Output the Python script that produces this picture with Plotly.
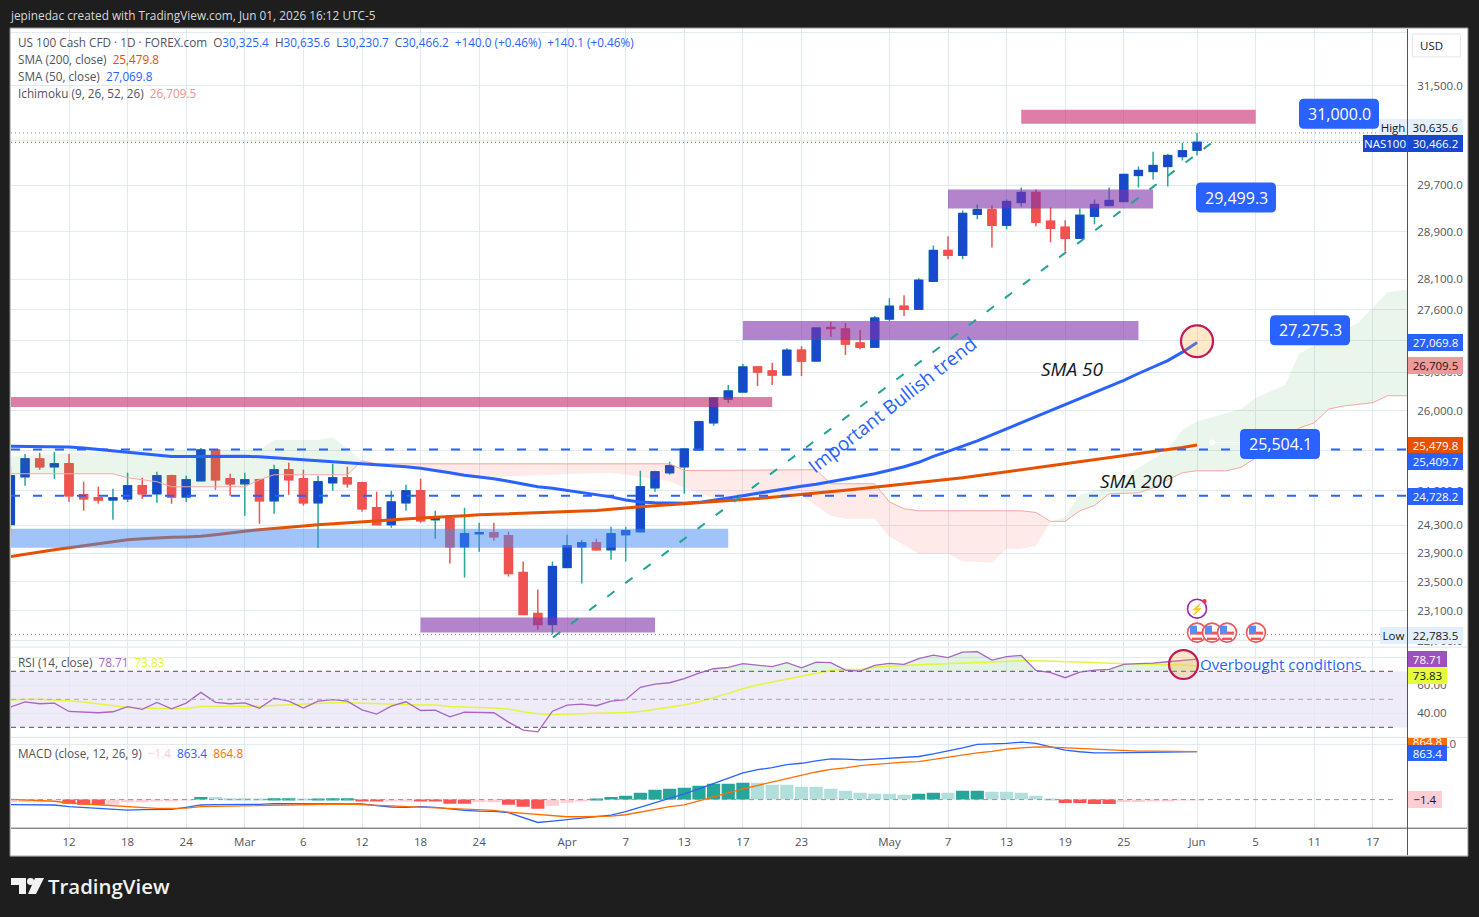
import math
import plotly.graph_objects as go

W, H = 1479, 917
FONT = "Open Sans"

bars = list(range(82))

# candles
opens = [24310, 25005, 25270, 25153, 25197, 24740, 24696, 24666, 24681, 24873,
         24755, 25020, 24710, 24946, 25404, 24976, 24902, 24961, 24652, 25109,
         24976, 24623, 24917, 24990, 24917, 24551, 24308, 24623, 24799, 24380,
         24394, 23993, 24179, 24193, 24150, 23630, 23066, 22917, 23700, 23993,
         24050, 23950, 24165, 24208, 24843, 25065, 25153, 25404, 25814, 26180,
         26289, 26680, 26618, 26555, 26946, 26774, 27310, 27285, 27059, 26994,
         27446, 27655, 27607, 28067, 28582, 28499, 29197, 29282, 29009, 29402,
         29577, 29077, 28975, 28787, 29163, 29351, 29419, 29876, 29946, 30035,
         30210, 30325.4]
highs = [25150, 25345, 25364, 25374, 25345, 24932, 24858, 24828, 25065, 24990,
         25079, 25035, 25020, 25434, 25410, 25050, 25065, 24976, 25182, 25212,
         25109, 25020, 25197, 25153, 24932, 24784, 24799, 24887, 24976, 24508,
         24437, 24551, 24337, 24337, 24208, 23783, 23394, 23783, 24165, 24093,
         24107, 24279, 24279, 25094, 25094, 25227, 25426, 25845, 26211, 26399,
         26727, 26685, 26743, 26978, 27010, 27317, 27397, 27381, 27269, 27494,
         27785, 27835, 28117, 28667, 28821, 29265, 29368, 29351, 29454, 29665,
         29630, 29317, 29095, 29300, 29454, 29665, 29911, 30035, 30298, 30263,
         30457, 30635.6]
lows = [24150, 24873, 25109, 24976, 24637, 24508, 24609, 24380, 24637, 24681,
        24623, 24609, 24637, 24940, 24814, 24725, 24437, 24322, 24466, 24740,
        24580, 23979, 24799, 24843, 24494, 24300, 24265, 24508, 24337, 24107,
        23755, 23561, 23922, 24079, 23575, 23050, 22850, 22783.5, 23695, 23477,
        23936, 23811, 23783, 24193, 24784, 25035, 24755, 25400, 25769, 26118,
        26285, 26383, 26399, 26550, 26539, 26770, 27156, 26868, 26962, 26990,
        27413, 27494, 27605, 28060, 28433, 28433, 29112, 28633, 28941, 29334,
        28992, 28719, 28565, 28780, 29026, 29345, 29415, 29665, 29806, 29683,
        30140, 30230.7]
closes = [25020, 25271, 25153, 25197, 24725, 24681, 24666, 24696, 24873, 24755,
          25020, 24710, 24961, 25404, 24961, 24902, 24961, 24652, 25109, 24961,
          24623, 24932, 24990, 24902, 24537, 24308, 24637, 24799, 24365, 24394,
          23993, 24179, 24193, 24136, 23616, 23052, 22917, 23713, 24007, 24050,
          23950, 24179, 24222, 24858, 25079, 25168, 25419, 25830, 26195, 26305,
          26680, 26602, 26555, 26946, 26774, 27300, 27295, 27043, 26994, 27462,
          27655, 27607, 28084, 28582, 28499, 29214, 29282, 29009, 29419, 29577,
          29060, 28958, 28787, 29180, 29368, 29436, 29894, 29964, 30052, 30228,
          30316, 30466.2]

sma50 = [25460, 25460, 25457, 25454, 25450, 25434, 25412, 25389, 25367, 25345,
         25323, 25308, 25308, 25311, 25315, 25315, 25312, 25301, 25286, 25271,
         25256, 25242, 25227, 25212, 25205, 25190, 25175, 25153, 25131, 25101,
         25065, 25028, 25005, 24976, 24939, 24895, 24858, 24836, 24806, 24777,
         24747, 24710, 24666, 24637, 24623, 24616, 24616, 24630, 24659, 24696,
         24725, 24762, 24799, 24836, 24865, 24895, 24932, 24969, 25005, 25050,
         25101, 25153, 25220, 25308, 25382, 25457, 25541, 25632, 25723, 25814,
         25906, 25997, 26096, 26187, 26273, 26367, 26469, 26578, 26680, 26782,
         26915, 27069.8]
sma200 = [23853, 23887, 23922, 23950, 23979, 24007, 24040, 24072, 24093, 24107,
          24122, 24127, 24133, 24142, 24165, 24193, 24215, 24236, 24251, 24272,
          24289, 24308, 24322, 24337, 24351, 24372, 24385, 24394, 24405, 24415,
          24423, 24437, 24451, 24458, 24466, 24473, 24480, 24487, 24494, 24508,
          24511, 24530, 24551, 24566, 24580, 24594, 24609, 24623, 24637, 24652,
          24666, 24685, 24706, 24725, 24740, 24762, 24784, 24806, 24828, 24850,
          24873, 24895, 24917, 24939, 24961, 24991, 25020, 25050, 25079, 25109,
          25138, 25168, 25197, 25227, 25256, 25283, 25315, 25345, 25374, 25404,
          25442, 25479.8]

# ichimoku cloud edges, kinks only (the cloud runs past the last bar)
span_b_x = [0, 7, 8, 10, 11, 16, 17, 18, 23, 24, 25, 45, 46, 55, 56, 59, 60, 61, 62, 69,
            70, 71, 72, 73, 74, 75, 77, 78, 79, 80, 81, 83, 84, 85, 88, 89, 90, 91, 93, 94, 96]
span_b = [25050, 25050, 24991, 24932, 24858, 24858, 24961, 25035, 25035, 25242,
          25197, 25197, 25098, 25109, 24902, 24902, 24637, 24537, 24508, 24508,
          24484, 24355, 24355, 24508, 24584, 24755, 24769, 24843, 24961, 25065,
          25094, 25094, 25143, 25286, 25738, 25814, 26027, 26073, 26123, 26231, 26231]
span_a_x = [0, 4, 8, 17, 18, 21, 22, 24, 26, 28, 31, 37, 41, 43, 45, 46, 48, 50,
            54, 55, 56, 57, 59, 60, 62, 64, 65, 67, 68, 69, 70, 71, 72, 73, 75, 77, 79, 80,
            81, 84, 85, 87, 88, 92, 94, 96]
span_a = [25305, 25360, 25389, 25404, 25556, 25556, 25597, 25242,
          25168, 25109, 24991, 25035, 25065, 25010, 24936, 24843, 24696, 24666,
          24725, 24580, 24437, 24394, 24394, 24136, 23894, 23894, 23787, 23769,
          23964, 23964, 24007, 24351, 24423, 24740, 24858, 25138, 25404, 25708,
          25834, 26027, 26195, 26399, 26899, 27381, 27884, 27951]

rsi = [44.5, 48.3, 46.9, 47.4, 41.4, 40.9, 40.5, 41.2, 44.8, 42.9,
       47.9, 43.3, 47.4, 55.0, 47.9, 46.9, 47.6, 43.6, 50.9, 48.8,
       43.8, 48.8, 49.8, 48.8, 42.6, 39.5, 45.2, 48.3, 42.1, 42.4,
       37.6, 40.9, 40.9, 40.5, 33.8, 28.1, 26.9, 41.6, 45.9, 46.6,
       45.5, 48.8, 49.8, 58.6, 60.9, 61.9, 64.8, 68.8, 71.9, 72.9,
       75.5, 74.3, 73.4, 76.2, 72.6, 76.6, 76.2, 70.9, 70.2, 74.3,
       75.7, 75.0, 79.1, 81.6, 79.8, 83.8, 84.1, 78.1, 80.5, 81.4,
       70.7, 69.1, 65.5, 69.5, 70.9, 71.4, 75.0, 75.5, 75.9, 76.9,
       77.9, 78.71]
rsi_ma = [49.5, 50.2, 50.2, 49.8, 49.0, 48.1, 46.9, 45.5, 44.3, 43.8,
          43.3, 43.3, 43.6, 45.0, 45.2, 45.2, 45.0, 45.2, 45.7, 46.2,
          46.4, 47.1, 47.6, 47.6, 47.4, 47.1, 46.9, 46.4, 46.0, 46.0,
          45.0, 44.8, 44.3, 43.8, 43.1, 41.2, 39.8, 39.3, 39.5, 39.8,
          40.0, 40.2, 40.7, 41.4, 42.9, 44.3, 46.0, 48.3, 51.2, 54.3,
          57.6, 60.3, 62.4, 64.5, 66.7, 68.8, 70.7, 71.4, 71.4, 72.9,
          73.8, 74.3, 74.8, 75.2, 75.5, 75.9, 76.4, 76.9, 77.4, 77.6,
          77.6, 77.4, 76.9, 76.6, 76.4, 75.9, 75.5, 75.2, 75.0, 74.8,
          74.5, 73.83]

macd = [-91, -91, -91, -97, -127, -145, -164, -182, -188, -182,
        -176, -176, -139, -97, -91, -91, -85, -85, -73, -73,
        -79, -79, -67, -67, -79, -109, -133, -139, -127, -139,
        -170, -194, -206, -212, -236, -321, -412, -388, -358, -327,
        -297, -279, -218, -139, -48, 24, 103, 194, 285, 376,
        479, 539, 576, 630, 654, 697, 733, 727, 715, 727,
        745, 758, 776, 824, 873, 933, 994, 1000, 1012, 1036,
        1012, 951, 891, 861, 842, 842, 842, 848, 848, 854,
        861, 863.4]
signal = [6, -6, -18, -30, -61, -79, -91, -109, -127, -145,
          -158, -158, -152, -127, -121, -115, -109, -109, -103, -97,
          -97, -91, -79, -79, -91, -103, -115, -121, -127, -139,
          -158, -170, -182, -194, -224, -248, -273, -297, -309, -309,
          -303, -297, -273, -230, -176, -127, -97, -24, 55, 121,
          194, 255, 315, 388, 448, 497, 545, 570, 612, 636,
          661, 673, 685, 727, 770, 806, 842, 867, 909, 933,
          951, 945, 933, 921, 903, 891, 879, 873, 873, 867,
          867, 864.8]
hist = [-48, -48, -48, -6, -73, -91, -91, -91, -48, -48,
        -36, -24, -6, 48, 48, 24, 24, 6, 24, 24,
        6, 12, 24, 24, -24, -36, -24, -18, -36, -36,
        -73, -73, -48, -48, -91, -127, -164, -109, -55, -18,
        12, 48, 67, 121, 176, 194, 212, 248, 285, 285,
        303, 303, 267, 267, 230, 230, 194, 158, 121, 103,
        103, 85, 103, 121, 121, 158, 158, 139, 139, 121,
        67, 12, -61, -61, -79, -79, -42, -42, -18, -18,
        -12, -1.4]
hist_kind = "rrrrRRRrrrrrrTttttTTtTTTRRrrRRRRrrRRRrrrT" + "TTTTTTTTTTtttttttttttTTtTTtttttRRRRrrrrrr"

# time axis
tick_bars = [0, 4, 8, 12, 16, 20, 24, 28, 32, 38, 42, 46, 50, 54, 60, 64, 68, 72, 76, 81, 85, 89, 93]
tick_text = ["6", "12", "18", "24", "Mar", "6", "12", "18", "24", "Apr", "7", "13", "17", "23",
             "May", "7", "13", "19", "25", "Jun", "5", "11", "17"]

# price axis
price_ticks = [32500, 31500, 30500, 29700, 28900, 28100, 27600, 27100, 26600, 26000, 25400, 24800,
               24300, 23900, 23500, 23100, 22700]
rsi_ticks = [80, 60, 40]
macd_ticks = [1000]

# zones drawn on the chart
zone_x0 = [69, 64, 50, -2, -2, 28]
zone_x1 = [85, 78, 77, 52, 49, 44]
zone_top = [31058, 29630, 27413, 26211, 24251, 23012]
zone_bottom = [30803, 29299, 27107, 26058, 23979, 22809]
zone_color = ["rgba(200,38,106,.6)", "rgba(128,50,170,.6)", "rgba(128,50,170,.6)",
              "rgba(200,38,106,.6)", "rgba(65,137,245,.5)", "rgba(128,50,170,.6)"]

level_prices = [25409.7, 24728.2]
trend_x = [37.04, 81.95]
trend_y = [22742, 30447]


def X(px):
    return px / W


def Y(py):
    return 1 - py / H


def rect(x0, y0, x1, y1, fill, line=None, layer="above", lw=1):
    return dict(type="rect", xref="paper", yref="paper", x0=X(x0), x1=X(x1), y0=Y(y0), y1=Y(y1),
                fillcolor=fill, line=dict(color=line, width=lw if line else 0), layer=layer)


def circle(cx, cy, r, fill, line=None, lw=2):
    return dict(type="circle", xref="paper", yref="paper", x0=X(cx - r), x1=X(cx + r), y0=Y(cy + r), y1=Y(cy - r),
                fillcolor=fill, line=dict(color=line, width=lw if line else 0), layer="above")


def hline(x0, y, x1, color, lw=1):
    return dict(type="line", xref="paper", yref="paper", x0=X(x0), x1=X(x1), y0=Y(y), y1=Y(y),
                line=dict(color=color, width=lw), layer="above")


def rounded(x0, y0, x1, y1, r, fill):
    p = (f"M {X(x0 + r)} {Y(y0)} L {X(x1 - r)} {Y(y0)} Q {X(x1)} {Y(y0)} {X(x1)} {Y(y0 + r)} "
         f"L {X(x1)} {Y(y1 - r)} Q {X(x1)} {Y(y1)} {X(x1 - r)} {Y(y1)} "
         f"L {X(x0 + r)} {Y(y1)} Q {X(x0)} {Y(y1)} {X(x0)} {Y(y1 - r)} "
         f"L {X(x0)} {Y(y0 + r)} Q {X(x0)} {Y(y0)} {X(x0 + r)} {Y(y0)} Z")
    return dict(type="path", xref="paper", yref="paper", path=p, fillcolor=fill, line=dict(width=0), layer="above")


def label(text, x, y, size=12, color="#50535E", anchor="left", angle=0, **kw):
    return dict(text=text, xref="paper", yref="paper", x=X(x), y=Y(y), xanchor=anchor, yanchor="middle",
                borderpad=0, borderwidth=0, showarrow=False, textangle=angle,
                font=dict(family=FONT, size=size, color=color, **kw))


def badge(text, x0, y0, x1, y1, bg, color="white"):
    return dict(text=text, xref="paper", yref="paper", x=X(x0), y=Y(y0), xanchor="left", yanchor="top",
                width=x1 - x0, height=y1 - y0, bgcolor=bg, borderpad=0, borderwidth=0, showarrow=False,
                align="center", font=dict(family=FONT, size=11.5, color=color))


def span(text, color):
    return f'<span style="color:{color}">{text}</span>'


UP, DOWN, WICK = "#1848CC", "#EF5350", "#26A69A"
BLUE, ORANGE = "#2962FF", "#E65100"
GRID = "#E1EAF1"
GRAY = "#50535E"
SP = "&nbsp;&nbsp;"

fig = go.Figure()


def cloud(lo, hi, fill):
    bx = [x for x in span_b_x if lo <= x <= hi]
    by = [v for x, v in zip(span_b_x, span_b) if lo <= x <= hi]
    ax = [x for x in span_a_x if lo <= x <= hi]
    ay = [v for x, v in zip(span_a_x, span_a) if lo <= x <= hi]
    fig.add_trace(go.Scatter(x=bx, y=by, mode="lines", line=dict(color="#F6A8A2", width=1), hoverinfo="skip"))
    fig.add_trace(go.Scatter(x=ax, y=ay, mode="lines", line=dict(width=0), fill="tonexty", fillcolor=fill,
                             hoverinfo="skip"))


cloud(0, 24, "rgba(67,160,71,.11)")
cloud(24, 71, "rgba(244,67,54,.11)")
cloud(71, 96, "rgba(67,160,71,.11)")

fig.add_trace(go.Scatter(x=bars, y=sma50, mode="lines", line=dict(color=BLUE, width=3), hoverinfo="skip"))
fig.add_trace(go.Scatter(x=bars, y=sma200, mode="lines", line=dict(color=ORANGE, width=3), hoverinfo="skip"))

# wicks first, then the bodies over them so the body has no teal edge
fig.add_trace(go.Candlestick(x=bars, open=opens, high=highs, low=lows, close=closes, whiskerwidth=0,
                             increasing=dict(line=dict(color=WICK, width=1.5), fillcolor=UP),
                             decreasing=dict(line=dict(color=DOWN, width=1.5), fillcolor=DOWN), hoverinfo="skip"))
fig.add_trace(go.Candlestick(x=bars, open=opens, close=closes, whiskerwidth=0,
                             high=[max(o, c) for o, c in zip(opens, closes)],
                             low=[min(o, c) for o, c in zip(opens, closes)],
                             increasing=dict(line=dict(color=UP, width=1), fillcolor=UP),
                             decreasing=dict(line=dict(color=DOWN, width=1), fillcolor=DOWN), hoverinfo="skip"))

# rsi pane
fig.add_trace(go.Scatter(x=bars, y=[70] * 82, mode="lines", line=dict(width=0), xaxis="x2", yaxis="y2", hoverinfo="skip"))
fig.add_trace(go.Scatter(x=bars, y=[max(v, 70) for v in rsi], mode="lines", line=dict(width=0), fill="tonexty",
                         fillcolor="rgba(76,175,80,.16)", xaxis="x2", yaxis="y2", hoverinfo="skip"))
fig.add_trace(go.Scatter(x=bars, y=rsi_ma, mode="lines", line=dict(color="#E4F53A", width=1.5), xaxis="x2", yaxis="y2",
                         hoverinfo="skip"))
fig.add_trace(go.Scatter(x=bars, y=rsi, mode="lines", line=dict(color="#A765C4", width=1.3), xaxis="x2", yaxis="y2",
                         hoverinfo="skip"))

# macd pane
hist_colors = {"T": "#26A69A", "t": "#B2DFDB", "R": "#FF5252", "r": "#FFCDD2"}
fig.add_trace(go.Bar(x=bars, y=hist, width=0.9, marker=dict(color=[hist_colors[k] for k in hist_kind], line=dict(width=0)),
                     xaxis="x3", yaxis="y3", hoverinfo="skip"))
fig.add_trace(go.Scatter(x=bars, y=macd, mode="lines", line=dict(color=BLUE, width=1.3), xaxis="x3", yaxis="y3", hoverinfo="skip"))
fig.add_trace(go.Scatter(x=bars, y=signal, mode="lines", line=dict(color="#FF6D00", width=1.3), xaxis="x3", yaxis="y3", hoverinfo="skip"))

# drawings that live on the price scale
shapes = [rect(10, 27, 1468, 857, "white", "#8A8A8A", "below")]
for x0, x1, top, bottom, color in zip(zone_x0, zone_x1, zone_top, zone_bottom, zone_color):
    shapes.append(dict(type="rect", xref="x", yref="y", x0=x0, x1=x1, y0=bottom, y1=top, fillcolor=color,
                       line=dict(width=0), layer="above"))
for price in level_prices:
    shapes.append(dict(type="line", xref="paper", yref="y", x0=X(11), x1=X(1407), y0=price, y1=price,
                       line=dict(color=BLUE, width=2, dash="9px,13px"), layer="above"))
shapes.append(dict(type="line", xref="x", yref="y", x0=trend_x[0], x1=trend_x[1], y0=trend_y[0], y1=trend_y[1],
                   line=dict(color="#22A392", width=2, dash="9px,13.6px"), layer="above"))
shapes.append(dict(type="line", xref="paper", yref="y", x0=X(11), x1=X(1378), y0=highs[81], y1=highs[81],
                   line=dict(color="#80838C", width=1, dash="1px,3px"), layer="above"))
shapes.append(dict(type="line", xref="paper", yref="y", x0=X(11), x1=X(1363), y0=closes[81], y1=closes[81],
                   line=dict(color=BLUE, width=1, dash="1px,3px"), layer="above"))
shapes.append(dict(type="line", xref="paper", yref="y", x0=X(11), x1=X(1380), y0=lows[37], y1=lows[37],
                   line=dict(color="#80838C", width=1, dash="1px,3px"), layer="above"))

# rsi band and levels
shapes.append(dict(type="rect", xref="paper", yref="y2", x0=X(11), x1=X(1407), y0=30, y1=70,
                   fillcolor="rgba(126,87,194,.12)", line=dict(width=0), layer="below"))
for lvl, col in [(70, "#6F727C"), (50, "#B2B5BE"), (30, "#6F727C")]:
    shapes.append(dict(type="line", xref="paper", yref="y2", x0=X(11), x1=X(1395), y0=lvl, y1=lvl,
                       line=dict(color=col, width=1.2, dash="5px,4px"), layer="above"))
shapes.append(dict(type="line", xref="paper", yref="y3", x0=X(11), x1=X(1395), y0=0, y1=0,
                   line=dict(color="#9598A1", width=1, dash="5px,4px"), layer="above"))

# pane borders
shapes += [hline(11, 647.5, 1467, "#DCE4EC"), hline(11, 738, 1467, "#DCE4EC"), hline(11, 829, 1467, GRAY)]
shapes.append(dict(type="line", xref="paper", yref="paper", x0=X(1407.5), x1=X(1407.5), y0=Y(28), y1=Y(856),
                   line=dict(color=GRAY, width=1), layer="above"))
shapes.append(rect(1412.5, 33, 1460.5, 56, "white", "#E3E6EC"))

# callouts
for x0, y0, x1, y1 in [(1299, 98, 1379, 128), (1196, 182, 1276, 212), (1270, 315, 1350, 345), (1240, 429, 1320, 459)]:
    shapes.append(rounded(x0, y0, x1, y1, 5, BLUE))
shapes += [hline(1212, 442.5, 1240, "white", 1), circle(1212, 442.5, 3, "white")]
shapes += [circle(1197, 341, 16, "rgba(255,167,38,.25)", "#C2185B", 2.2),
           circle(1183.5, 665, 14.5, "rgba(255,167,38,.25)", "#C2185B", 2.2)]

# event markers
shapes += [circle(1197, 609, 9.5, "white", "#9C27B0", 1.6), circle(1204.5, 601.5, 2.2, "#F23645")]
for cx in [1197, 1212, 1227, 1256]:
    shapes += [circle(cx, 633, 9.5, "white", "#F0565A", 1.6),
               rect(cx - 7, 632, cx + 7, 635, "#F0565A"), rect(cx - 5, 638, cx + 5, 640.5, "#F0565A"),
               rect(cx - 7, 626, cx, 634, "#5B8DEF")]

# footer logo
shapes.append(dict(type="path", xref="paper", yref="paper",
                   path=(f"M {X(11)} {Y(879)} L {X(26)} {Y(879)} L {X(26)} {Y(895)} L {X(19)} {Y(895)} "
                         f"L {X(19)} {Y(886)} L {X(11)} {Y(886)} Z "
                         f"M {X(35)} {Y(879)} L {X(44)} {Y(879)} L {X(36)} {Y(895)} L {X(28)} {Y(895)} Z"),
                   fillcolor="#F2F2F2", line=dict(width=0), layer="above"))
shapes.append(circle(30.5, 882.5, 3.5, "#F2F2F2"))

legend1 = (span("US 100 Cash CFD · 1D · FOREX.com" + SP + "O", GRAY) + span("30,325.4", BLUE) + span(SP + "H", GRAY) + span("30,635.6", BLUE)
           + span(SP + "L", GRAY) + span("30,230.7", BLUE) + span(SP + "C", GRAY) + span("30,466.2", BLUE)
           + span(SP + "+140.0 (+0.46%)" + SP + "+140.1 (+0.46%)", BLUE))

annotations = [
    label("jepinedac created with TradingView.com, Jun 01, 2026 16:12 UTC-5", 10, 14, 11.8, "#D6D8DE"),
    label(legend1, 18, 41.5, 11.75),
    label(span("SMA (200, close)" + SP, GRAY) + span("25,479.8", ORANGE), 18, 58.5, 11.75),
    label(span("SMA (50, close)" + SP, GRAY) + span("27,069.8", BLUE), 18, 75.5, 11.75),
    label(span("Ichimoku (9, 26, 52, 26)" + SP, GRAY) + span("26,709.5", "#F28E8E"), 18, 92.5, 11.75),
    label(span("RSI (14, close)" + SP, GRAY) + span("78.71", "#A765C4") + SP + span("73.83", "#E4F53A"), 18, 662.5, 11.75),
    label(span("MACD (close, 12, 26, 9)" + SP, GRAY) + span("−1.4", "#FFCDD2") + SP + span("863.4", BLUE) + SP
          + span("864.8", "#FF6D00"), 18, 753.5, 11.75),
    label("USD", 1431, 44.5, 11.5, "#131722", "center"),
    label("31,000.0", 1339, 113, 16, "white", "center"),
    label("29,499.3", 1236, 197, 16, "white", "center"),
    label("27,275.3", 1310, 330, 16, "white", "center"),
    label("25,504.1", 1280, 444, 16, "white", "center"),
    label("Important Bullish trend", 892, 405, 19, BLUE, "center", -38),
    label("<i>SMA 50</i>", 1072, 369, 19, "#131722", "center"),
    label("<i>SMA 200</i>", 1136, 481, 19, "#131722", "center"),
    label("Overbought conditions", 1200, 664, 15.1, BLUE),
    label("⚡", 1197, 609, 11, "#9C27B0", "center"),
    label("TradingView", 48, 887, 20.4, "#F2F2F2", weight=600),
    badge("High", 1379, 118, 1407, 134, "#E3EFFD", "#131722"),
    badge("30,635.6", 1408, 118, 1463, 134, "#E3EFFD", "#131722"),
    badge("NAS100", 1363, 134.5, 1407, 151, UP),
    badge("30,466.2", 1408, 134.5, 1463, 151, UP),
    badge("27,069.8", 1408, 334, 1463, 350.5, BLUE),
    badge("26,709.5", 1408, 357, 1463, 374, "#EF9A9A", "#131722"),
    badge("25,479.8", 1408, 437, 1463, 453, ORANGE),
    badge("25,409.7", 1408, 453, 1463, 469.5, BLUE),
    badge("24,728.2", 1408, 488, 1463, 505, BLUE),
    badge("Low", 1380, 627, 1407, 643.5, "#E3EFFD", "#131722"),
    badge("22,783.5", 1408, 627, 1463, 643.5, "#E3EFFD", "#131722"),
    badge("78.71", 1408, 651, 1447, 667.5, "#A050BE"),
    badge("73.83", 1408, 667.5, 1447, 684, "#E4FF3A", "#131722"),
    badge("864.8", 1408, 738.5, 1447, 746, "#FF6D00"),
    badge("863.4", 1408, 746, 1447, 762, BLUE),
    badge("−1.4", 1408, 792, 1442, 809, "#FFCDD2", "#131722"),
]

x_common = dict(range=[(11 - 10.4) / 14.65, (1407 - 10.4) / 14.65], domain=[X(11), X(1407)], showgrid=True, gridcolor=GRID,
                gridwidth=1, tickvals=tick_bars, zeroline=False, showline=False, rangeslider=dict(visible=False))


def y_common(top, bottom):
    return dict(domain=[Y(bottom), Y(top)], side="right", showgrid=True, gridcolor=GRID, gridwidth=1, zeroline=False,
                showline=False, ticks="outside", ticklen=7, tickcolor="rgba(0,0,0,0)", tickfont=dict(family=FONT, size=11.5, color=GRAY))


fig.update_layout(
    width=W, height=H, autosize=False, margin=dict(l=0, r=0, t=0, b=0), showlegend=False, barmode="overlay",
    boxmode="overlay", boxgap=0.22,
    paper_bgcolor="#1E1E1E", plot_bgcolor="white", font=dict(family=FONT, size=12),
    xaxis=dict(x_common, anchor="y", showticklabels=False, ticks=""),
    xaxis2=dict(x_common, anchor="y2", matches="x", showticklabels=False, ticks=""),
    xaxis3=dict(x_common, anchor="y3", matches="x", ticktext=tick_text, ticks="outside", ticklen=3, tickcolor="rgba(0,0,0,0)",
                tickfont=dict(family=FONT, size=11.5, color=GRAY)),
    yaxis=dict(y_common(28, 647), type="log", anchor="x", range=[math.log10(22619), math.log10(32576)], tickvals=price_ticks,
               ticktext=[f"{v:,.1f}" if v != 32500 else "" for v in price_ticks]),
    yaxis2=dict(y_common(648, 738), anchor="x2", range=[22.9, 87], tickvals=rsi_ticks, ticktext=[f"{v:.2f}" for v in rsi_ticks]),
    yaxis3=dict(y_common(738, 829), anchor="x3", range=[-515, 1120], tickvals=macd_ticks, ticktext=["1,000.0"]),
    shapes=shapes, annotations=annotations,
)

fig.write_html("out.html", config={"displayModeBar": False},
               post_script="document.body.style.margin='0';document.body.style.overflow='hidden';")
